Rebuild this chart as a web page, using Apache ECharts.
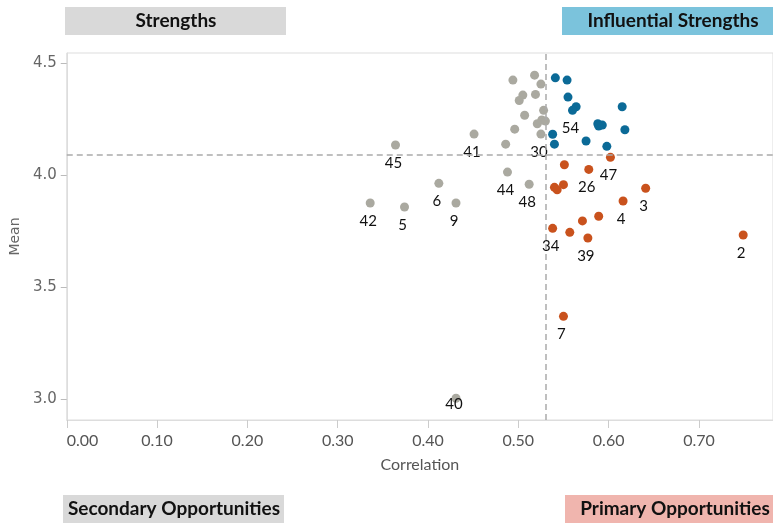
<!DOCTYPE html>
<html>
<head>
<meta charset="utf-8">
<script src="https://cdn.jsdelivr.net/npm/echarts@6/dist/echarts.min.js"></script>
<style>
  html, body { margin: 0; padding: 0; background: #fff; }
  #container { width: 773px; height: 523px; }
</style>
</head>
<body>
<div id="container"></div>
<script>
// point values (correlation, mean, label)
var grayCorr  = [0.494, 0.518, 0.525, 0.505, 0.501, 0.519, 0.507, 0.528, 0.521, 0.526, 0.530, 0.496, 0.525, 0.486, 0.451, 0.364, 0.488, 0.512, 0.412, 0.336, 0.374, 0.431, 0.431];
var grayMean  = [4.424, 4.446, 4.406, 4.357, 4.333, 4.360, 4.267, 4.289, 4.229, 4.246, 4.241, 4.205, 4.183, 4.138, 4.183, 4.134, 4.013, 3.959, 3.963, 3.875, 3.857, 3.875, 3.003];
var grayLabel = ['', '', '', '', '', '', '', '', '', '', '', '', '30', '', '41', '45', '44', '48', '6', '42', '5', '9', '40'];

var blueCorr  = [0.541, 0.554, 0.555, 0.564, 0.560, 0.615, 0.588, 0.593, 0.589, 0.618, 0.538, 0.540, 0.575, 0.598];
var blueMean  = [4.434, 4.424, 4.348, 4.305, 4.289, 4.305, 4.229, 4.223, 4.219, 4.202, 4.182, 4.138, 4.152, 4.128];
var blueLabel = ['', '', '', '', '54', '', '', '', '', '', '', '', '', ''];

var orangeCorr  = [0.602, 0.551, 0.578, 0.540, 0.543, 0.550, 0.641, 0.616, 0.589, 0.571, 0.538, 0.557, 0.577, 0.550, 0.749];
var orangeMean  = [4.079, 4.046, 4.025, 3.945, 3.934, 3.957, 3.941, 3.884, 3.816, 3.795, 3.762, 3.744, 3.719, 3.369, 3.732];
var orangeLabel = ['47', '', '26', '', '', '', '3', '4', '', '', '34', '', '39', '7', '2'];

var corrCut = 0.5335;
var meanCut = 4.089;

var xTicks = [0, 0.1, 0.2, 0.3, 0.4, 0.5, 0.6, 0.7];
var yTicks = [3.0, 3.5, 4.0, 4.5];

var quadrants = [
    {text: 'Strengths', fill: '#d9d9d9', x: 65, y: 7, w: 221, cx: 176},
    {text: 'Influential Strengths', fill: '#7bc3dc', x: 562, y: 7, w: 215, cx: 673},
    {text: 'Secondary Opportunities', fill: '#d9d9d9', x: 63, y: 495, w: 221, cx: 174},
    {text: 'Primary Opportunities', fill: '#f0b5ae', x: 565, y: 495, w: 212, cx: 675}
];

function makeData(corr, mean, labels) {
    var out = [];
    for (var i = 0; i < corr.length; i++) {
        var item = {value: [corr[i], mean[i]]};
        if (labels[i]) {
            item.label = {show: true, formatter: labels[i]};
            if (labels[i] == '40') {
                item.label.position = 'inside';
                item.label.offset = [-2, 6];
            }
        }
        out.push(item);
    }
    return out;
}

var pointLabel = {
    show: false,
    position: 'bottom',
    distance: 6,
    offset: [-2, 0],
    color: '#111',
    fontFamily: 'Lato',
    fontSize: 15
};

var chart = echarts.init(document.getElementById('container'));

var graphics = [];
quadrants.forEach(function(q) {
    graphics.push({
        type: 'rect',
        shape: {x: q.x, y: q.y, width: q.w, height: 28},
        style: {fill: q.fill}
    });
    graphics.push({
        type: 'text',
        x: q.cx,
        y: q.y + 14,
        style: {
            text: q.text,
            fill: '#111',
            font: 'bold 19px Lato',
            textAlign: 'center',
            textVerticalAlign: 'middle'
        }
    });
});

var option = {
    animation: false,
    grid: {
        left: 65.6,
        right: 0,
        top: 53,
        bottom: 103,
        show: true,
        borderColor: '#ddd',
        borderWidth: 1
    },
    xAxis: {
        type: 'value',
        min: 0,
        max: 0.782,
        name: 'Correlation',
        nameLocation: 'middle',
        nameGap: 37,
        nameTextStyle: {color: '#555', fontFamily: 'Lato', fontSize: 16},
        axisLine: {show: true, lineStyle: {color: '#ddd'}},
        axisTick: {show: true, length: 8, lineStyle: {color: '#ccc'}, customValues: xTicks},
        axisLabel: {
            color: '#555', fontFamily: 'Lato', fontSize: 16, margin: 13,
            customValues: xTicks,
            alignMinLabel: 'left',
            formatter: function(v) { return v.toFixed(2); }
        },
        splitLine: {show: false}
    },
    yAxis: {
        type: 'value',
        min: 2.906,
        max: 4.545,
        name: 'Mean',
        nameLocation: 'middle',
        nameGap: 42,
        nameRotate: 90,
        nameTextStyle: {color: '#666', fontFamily: 'DejaVu Sans', fontSize: 14},
        axisLine: {show: true, lineStyle: {color: '#ddd'}},
        axisTick: {show: true, length: 6, lineStyle: {color: '#bbb'}, customValues: yTicks},
        axisLabel: {
            color: '#666', fontFamily: 'DejaVu Sans', fontSize: 15, margin: 10,
            customValues: yTicks,
            formatter: function(v) { return v.toFixed(1); }
        },
        splitLine: {show: false}
    },
    graphic: graphics,
    series: [
        {
            type: 'scatter',
            name: 'gray',
            symbolSize: 9,
            itemStyle: {color: '#aaa9a0', opacity: 1},
            label: pointLabel,
            data: makeData(grayCorr, grayMean, grayLabel),
            markLine: {
                silent: true,
                symbol: 'none',
                label: {show: false},
                lineStyle: {color: '#aaa', type: [6, 4], width: 1.5},
                data: [{xAxis: corrCut}, {yAxis: meanCut}]
            }
        },
        {
            type: 'scatter',
            name: 'blue',
            symbolSize: 9,
            itemStyle: {color: '#0b6a97', opacity: 1},
            label: pointLabel,
            data: makeData(blueCorr, blueMean, blueLabel)
        },
        {
            type: 'scatter',
            name: 'orange',
            symbolSize: 9,
            itemStyle: {color: '#c9521d', opacity: 1},
            label: pointLabel,
            data: makeData(orangeCorr, orangeMean, orangeLabel)
        }
    ]
};

chart.setOption(option);
</script>
</body>
</html>
